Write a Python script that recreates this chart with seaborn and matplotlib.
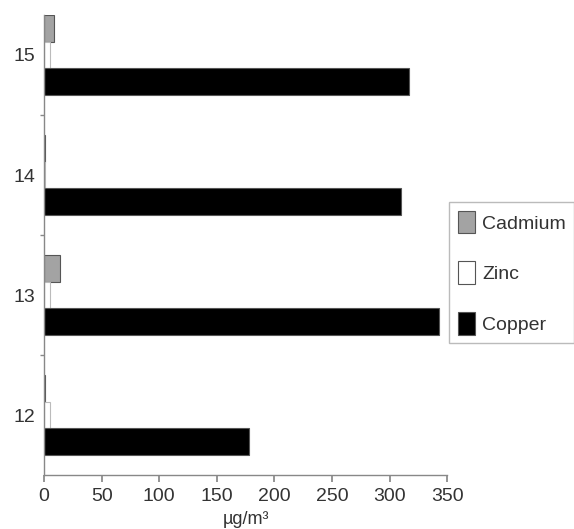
import matplotlib
matplotlib.use("Agg")
import matplotlib.pyplot as plt
import seaborn as sns
import pandas as pd

categories = ["15", "14", "13", "12"]
metals = ["Cadmium", "Zinc", "Copper"]
cadmium = [9, 1, 14, 1]
zinc = [5, 0.8, 5, 5]
copper = [317, 310, 343, 178]
xticks = [0, 50, 100, 150, 200, 250, 300, 350]

rows = []
for c, cd, zn, cu in zip(categories, cadmium, zinc, copper):
    rows.append({"cat": c, "metal": "Cadmium", "value": cd})
    rows.append({"cat": c, "metal": "Zinc", "value": zn})
    rows.append({"cat": c, "metal": "Copper", "value": cu})
df = pd.DataFrame(rows)

sns.set_theme(style="white")
plt.rcParams["font.family"] = ["Liberation Sans", "DejaVu Sans"]

fig = plt.figure(figsize=(5.74, 5.29), dpi=100)
ax = fig.add_axes([0.0767, 0.102, 0.7023, 0.8696])

palette = {"Cadmium": "#a3a3a3", "Zinc": "#ffffff", "Copper": "#000000"}
sns.barplot(data=df, x="value", y="cat", hue="metal", order=categories,
            hue_order=metals, palette=palette, orient="h", width=0.667,
            edgecolor="#555555", linewidth=0.8, saturation=1, ax=ax)

# zinc bars get lighter edges
for patch in ax.containers[1]:
    patch.set_edgecolor("#bbbbbb")

ax.set_xlim(0, 350)
ax.set_ylim(3.5, -0.333)
ax.set_xticks(xticks)
ax.set_xticklabels([str(t) for t in xticks], fontsize=14, color="#333333")
ax.set_yticks(range(len(categories)))
ax.set_yticklabels(categories, fontsize=14, color="#333333")
ax.set_yticks([0.5, 1.5, 2.5], minor=True)
ax.tick_params(axis="y", which="major", length=0, pad=6)
ax.tick_params(axis="y", which="minor", length=3, color="#888888", direction="out", left=True)
ax.tick_params(axis="x", which="major", length=5, color="#888888", direction="out", bottom=True, pad=4)
ax.set_ylabel("")
ax.set_xlabel("µg/m³", fontsize=13, color="#333333", labelpad=5)

for s in ["top", "right"]:
    ax.spines[s].set_visible(False)
for s in ["left", "bottom"]:
    ax.spines[s].set_color("#888888")
    ax.spines[s].set_linewidth(1.0)

h, l = ax.get_legend_handles_labels()
leg = ax.legend(h, l, loc="upper left", bbox_to_anchor=(0.782, 0.618),
                bbox_transform=fig.transFigure, fontsize=14, frameon=True,
                fancybox=False, edgecolor="#aaaaaa", handlelength=0.9,
                handleheight=1.4, labelspacing=1.45, borderpad=0.45,
                handletextpad=0.35, borderaxespad=0)
leg.get_frame().set_linewidth(1.0)
for t in leg.get_texts():
    t.set_color("#333333")

fig.savefig("out.png", dpi=100)
